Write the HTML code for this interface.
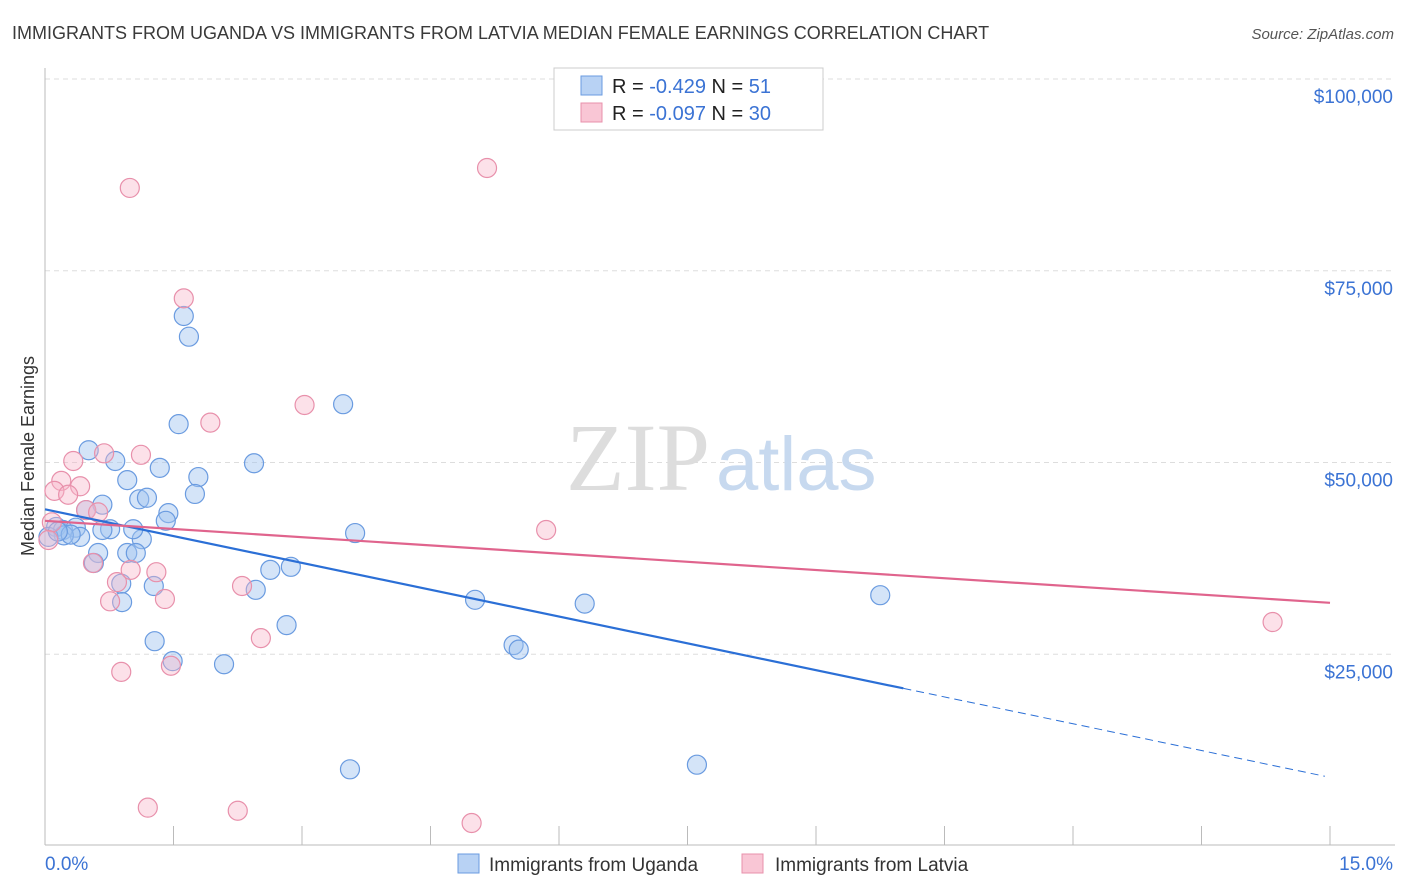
<!DOCTYPE html>
<html><head><meta charset="utf-8"><style>
body{margin:0;background:#fff;font-family:"Liberation Sans",sans-serif;}
svg{display:block}
</style></head><body>
<svg id="chart" width="1406" height="892" xmlns="http://www.w3.org/2000/svg">
<text x="12" y="39" font-size="18" fill="#3a3a3a">IMMIGRANTS FROM UGANDA VS IMMIGRANTS FROM LATVIA MEDIAN FEMALE EARNINGS CORRELATION CHART</text>
<text x="1394" y="39" font-size="15" fill="#555" font-style="italic" text-anchor="end">Source: ZipAtlas.com</text>
<g id="grid"></g>
<text x="710" y="490" font-size="96" fill="#ddd" text-anchor="end" font-family="Liberation Serif">ZIP</text>
<text x="716" y="490" font-size="76" fill="#c7d9ef">atlas</text>
<g id="axes"></g>
<g id="marks"></g>
<text transform="translate(34,456) rotate(-90)" font-size="18" fill="#333" text-anchor="middle">Median Female Earnings</text>
<g>
<rect x="554" y="68" width="269" height="62" fill="#fff" stroke="#ccc"/>
<rect x="581" y="76" width="21" height="19" fill="#b8d2f4" stroke="#6a9be0"/>
<rect x="581" y="103" width="21" height="19" fill="#f9c6d5" stroke="#e890ab"/>
<text x="612" y="93" font-size="20" fill="#222">R = <tspan fill="#3b73d4">-0.429</tspan>   N =  <tspan fill="#3b73d4">51</tspan></text>
<text x="612" y="120" font-size="20" fill="#222">R = <tspan fill="#3b73d4">-0.097</tspan>   N = <tspan fill="#3b73d4">30</tspan></text>
</g>
<g>
<rect x="458" y="854" width="21" height="19" fill="#b8d2f4" stroke="#6a9be0"/>
<text x="489" y="871" font-size="19" fill="#333">Immigrants from Uganda</text>
<rect x="742" y="854" width="21" height="19" fill="#f9c6d5" stroke="#e890ab"/>
<text x="775" y="871" font-size="19" fill="#333">Immigrants from Latvia</text>
</g>
</svg>
<script>
const yTicks=[25000,50000,75000,100000];
const yTickLabels=["$25,000","$50,000","$75,000","$100,000"];
const xTickLabels=["0.0%","15.0%"];
const ugandaX=[0.51,0.82,0.96,1.34,1.79,2.44,0.67,1.10,1.19,1.75,1.44,1.41,0.13,0.21,0.36,0.41,0.76,0.22,1.13,0.62,0.96,1.06,0.57,0.89,1.27,0.90,1.56,1.62,1.68,3.48,3.62,2.63,2.87,2.46,2.82,1.28,1.49,2.09,3.56,5.02,5.47,5.53,6.30,7.61,9.75,0.04,0.67,0.48,1.03,0.30,0.15];
const ugandaY=[51600,50200,47700,49300,48100,49900,44500,45200,45400,45900,43400,42400,41600,41200,41500,40300,41300,40500,40000,38200,38200,38200,36900,34200,33900,31800,55000,69100,66400,57600,40800,36000,36400,33400,28800,26700,24100,23700,10000,32100,26200,25600,31600,10600,32700,40300,41200,43800,41300,40600,41000];
const latviaX=[0.99,5.16,1.62,1.93,3.03,0.69,1.12,0.33,0.19,0.41,0.11,0.27,0.48,0.62,5.85,0.08,0.04,0.56,1.00,1.30,0.84,2.30,0.76,1.40,2.52,0.89,1.47,14.33,1.20,2.25,4.98];
const latviaY=[85800,88400,71400,55200,57500,51200,51000,50200,47600,46900,46300,45800,43800,43500,41200,42200,39900,36900,36000,35700,34400,33900,31900,32200,27100,22700,23500,29200,5000,4600,3000];
const ugandaTrend=[43900,-2330];
const latviaTrend=[42400,-713];
const NS="http://www.w3.org/2000/svg";
const X=v=>45+v/15*1285;
const Y=v=>846-v/25000*191.75;
function mk(tag,attrs,parent){const e=document.createElementNS(NS,tag);for(const k in attrs)e.setAttribute(k,attrs[k]);parent.appendChild(e);return e;}
const grid=document.getElementById('grid'),axes=document.getElementById('axes'),marks=document.getElementById('marks');
yTicks.forEach((t,i)=>{
 const l=mk('line',{x1:45,x2:1395,y1:Y(t),y2:Y(t),stroke:'#ddd','stroke-dasharray':'5,4'},grid);
 
 
 const tx=mk('text',{x:1393,y:Y(t)+24,'font-size':19,fill:'#3b73d4','text-anchor':'end'},axes);
 tx.textContent=yTickLabels[i];
 
 
});
const ax=mk('line',{x1:45,x2:1395,y1:845,y2:845,stroke:'#bbb'},axes);


const ay=mk('line',{x1:45,x2:45,y1:68,y2:845,stroke:'#bbb'},axes);


for(let i=0;i<=10;i++){
 const t=mk('line',{x1:X(i*1.5),x2:X(i*1.5),y1:826,y2:845,stroke:'#bbb'},axes);
 
 
}
[[0,'start',45],[15,'end',1393]].forEach((d,i)=>{
 const tx=mk('text',{x:d[2],y:870,'font-size':19,fill:'#3b73d4','text-anchor':d[1]},axes);
 tx.textContent=xTickLabels[i];
 
 
});
function dots(xs,ys,fill,stroke,name){
 xs.forEach((x,i)=>{
  const c=mk('circle',{cx:X(x),cy:Y(ys[i]),r:9.5,fill:fill,stroke:stroke,'stroke-width':1.2},marks);
  
  
 });
}
dots(ugandaX,ugandaY,'rgba(160,195,240,0.45)','#6a9be0','point-uganda');
dots(latviaX,latviaY,'rgba(248,180,200,0.4)','#e890ab','point-latvia');
const f=(tr,x)=>tr[0]+tr[1]*x;
const b1=mk('line',{x1:X(0),y1:Y(f(ugandaTrend,0)),x2:X(10.02),y2:Y(f(ugandaTrend,10.02)),stroke:'#2b6fd6','stroke-width':2.2},marks);


const b2=mk('line',{x1:X(10.02),y1:Y(f(ugandaTrend,10.02)),x2:X(14.94),y2:Y(f(ugandaTrend,14.94)),stroke:'#2b6fd6','stroke-width':1,'stroke-dasharray':'8,5'},marks);


const p1=mk('line',{x1:X(0),y1:Y(f(latviaTrend,0)),x2:X(15),y2:Y(f(latviaTrend,15)),stroke:'#e0648d','stroke-width':2.2},marks);


</script>
</body></html>
